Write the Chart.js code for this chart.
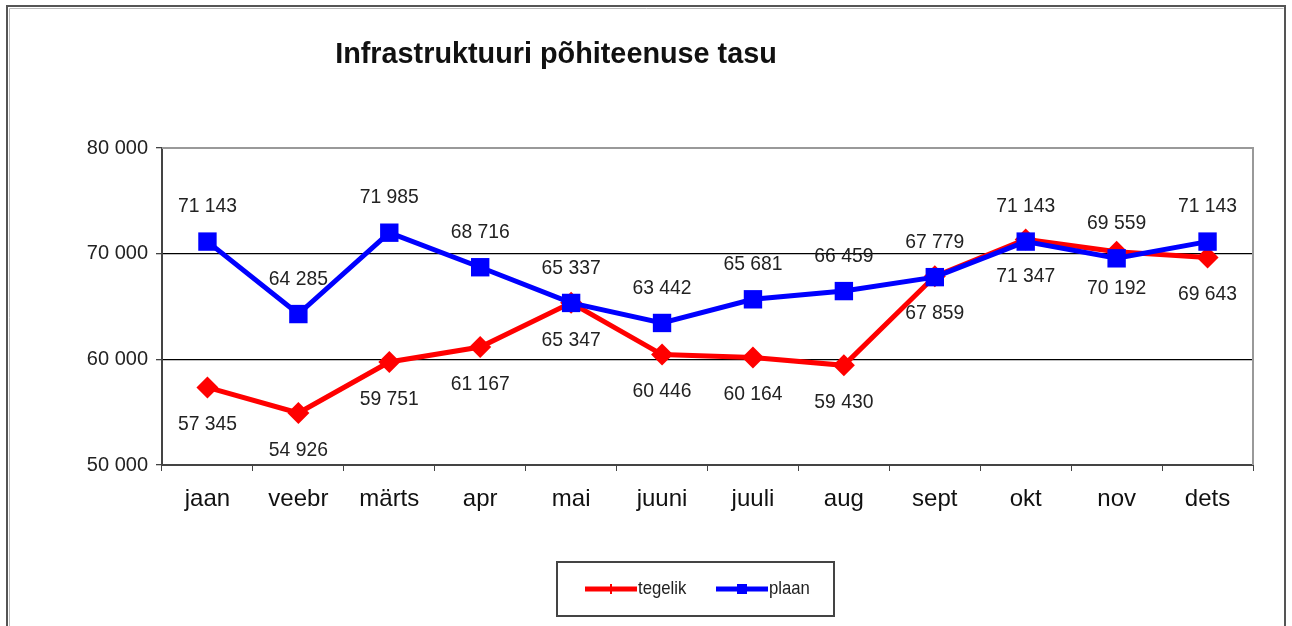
<!DOCTYPE html>
<html>
<head>
<meta charset="utf-8">
<script src="https://cdn.jsdelivr.net/npm/chart.js@4.4.0/dist/chart.umd.min.js"></script>
<style>
	html, body { margin: 0; padding: 0; background: #fff; }
	#wrap { width: 1292px; height: 626px; }
</style>
</head>
<body>
<div id="wrap"><canvas id="line-1" width="1292" height="626"></canvas></div>
<script>
const months = ["jaan", "veebr", "märts", "apr", "mai", "juuni", "juuli", "aug", "sept", "okt", "nov", "dets"];
const tegelik = [57345, 54926, 59751, 61167, 65347, 60446, 60164, 59430, 67859, 71347, 70192, 69643];
const plaan = [71143, 64285, 71985, 68716, 65337, 63442, 65681, 66459, 67779, 71143, 69559, 71143];
const yTicks = [50000, 60000, 70000, 80000];
const chartTitle = "Infrastruktuuri põhiteenuse tasu";

const FONT = "'Liberation Sans', Arial, sans-serif";

function fmt(v) {
	return String(v).replace(/\B(?=(\d{3})+(?!\d))/g, " ");
}

// frame, title, plot border, data labels, legend
const decorPlugin = {
	id: "decor",
	beforeDraw(chart) {
		const ctx = chart.ctx;
		ctx.save();
		ctx.fillStyle = "#fff";
		ctx.fillRect(0, 0, chart.width, chart.height);
		// outer frame
		ctx.strokeStyle = "#555";
		ctx.lineWidth = 2;
		ctx.beginPath();
		ctx.moveTo(7, 640);
		ctx.lineTo(7, 6);
		ctx.lineTo(1285, 6);
		ctx.lineTo(1285, 640);
		ctx.stroke();
		ctx.strokeStyle = "#bbb";
		ctx.lineWidth = 1;
		ctx.beginPath();
		ctx.moveTo(9.5, 640);
		ctx.lineTo(9.5, 8.5);
		ctx.lineTo(1283.5, 8.5);
		ctx.stroke();
		// title
		ctx.fillStyle = "#111";
		ctx.font = "bold 30px " + FONT;
		ctx.textAlign = "center";
		ctx.textBaseline = "middle";
		ctx.translate(556, 55);
		ctx.scale(0.96, 1);
		ctx.fillText(chartTitle, 0, 0);
		ctx.restore();
	},
	beforeDatasetsDraw(chart) {
		const a = chart.chartArea;
		const ctx = chart.ctx;
		ctx.save();
		ctx.strokeStyle = "#999";
		ctx.lineWidth = 2;
		ctx.beginPath();
		ctx.moveTo(a.left, a.top);
		ctx.lineTo(a.right, a.top);
		ctx.lineTo(a.right, a.bottom);
		ctx.stroke();
		ctx.restore();
	},
	afterDatasetsDraw(chart) {
		const ctx = chart.ctx;
		ctx.save();
		ctx.font = "21px " + FONT;
		ctx.fillStyle = "#222";
		ctx.textAlign = "center";
		ctx.textBaseline = "middle";
		chart.data.datasets.forEach((ds, i) => {
			const meta = chart.getDatasetMeta(i);
			const off = ds.label === "plaan" ? -35 : 37;
			meta.data.forEach((pt, j) => {
				ctx.save();
				ctx.translate(pt.x, pt.y + off);
				ctx.scale(0.92, 1);
				ctx.fillText(fmt(ds.data[j]), 0, 0);
				ctx.restore();
			});
		});
		ctx.restore();

		// legend box
		ctx.save();
		ctx.strokeStyle = "#444";
		ctx.lineWidth = 2;
		ctx.strokeRect(557, 562, 277, 54);
		ctx.font = "19px " + FONT;
		ctx.fillStyle = "#222";
		ctx.textBaseline = "middle";
		ctx.textAlign = "left";
		const items = [
			{ ds: chart.data.datasets[0], x: 585 },
			{ ds: chart.data.datasets[1], x: 716 },
		];
		items.forEach((it) => {
			const y = 589;
			ctx.strokeStyle = it.ds.borderColor;
			ctx.lineWidth = 5;
			ctx.beginPath();
			ctx.moveTo(it.x, y);
			ctx.lineTo(it.x + 52, y);
			ctx.stroke();
			ctx.fillStyle = it.ds.borderColor;
			if (it.ds.label === "plaan") {
				ctx.fillRect(it.x + 21, y - 5, 10, 10);
			} else {
				ctx.fillRect(it.x + 25, y - 5, 2, 10);
			}
			ctx.fillStyle = "#222";
			ctx.save();
			ctx.translate(it.x + 53, y);
			ctx.scale(0.88, 1);
			ctx.fillText(it.ds.label, 0, 0);
			ctx.restore();
		});
		ctx.restore();
	},
};

const data_l1 = {
	labels: months,
	datasets: [
		{
			label: "tegelik",
			data: tegelik,
			order: 2,
			borderColor: "#ff0000",
			backgroundColor: "#ff0000",
			borderWidth: 5,
			pointStyle: "rectRot",
			pointRadius: 11,
			pointBorderWidth: 0,
			pointHoverRadius: 11,
			tension: 0,
		},
		{
			label: "plaan",
			data: plaan,
			order: 1,
			borderColor: "#0000ff",
			backgroundColor: "#0000ff",
			borderWidth: 5,
			pointStyle: "rect",
			pointRadius: 13,
			pointBorderWidth: 0,
			pointHoverRadius: 13,
			tension: 0,
		},
	],
};

const config_l1 = {
	type: "line",
	data: data_l1,
	plugins: [decorPlugin],
	options: {
		responsive: false,
		animation: false,
		events: [],
		layout: {
			padding: { left: 0, top: 148, right: 39, bottom: 0 },
		},
		plugins: {
			legend: { display: false },
			title: { display: false },
			tooltip: { enabled: false },
		},
		scales: {
			x: {
				offset: true,
				afterFit(scale) {
					scale.height = 161;
				},
				grid: {
					offset: true,
					drawOnChartArea: false,
					drawTicks: true,
					tickLength: 6,
					color: "#444",
				},
				border: { color: "#444", width: 2 },
				ticks: {
					padding: 14,
					color: "#111",
					font: { family: FONT, size: 24 },
				},
			},
			y: {
				min: 50000,
				max: 80000,
				afterFit(scale) {
					scale.width = 162;
				},
				afterBuildTicks(scale) {
					scale.ticks = yTicks.map((v) => ({ value: v }));
				},
				grid: {
					color: (c) => (c.tick && c.tick.value === 80000 ? "#999" : c.tick && c.tick.value === 50000 ? "#444" : "#000"),
					lineWidth: 1.3,
					tickLength: 6,
					tickColor: "#444",
				},
				border: { color: "#444", width: 2 },
				ticks: {
					padding: 8,
					color: "#222",
					font: { family: FONT, size: 20 },
					callback: (v) => fmt(v),
				},
			},
		},
	},
};

new Chart(document.getElementById("line-1"), config_l1);
</script>
</body>
</html>
